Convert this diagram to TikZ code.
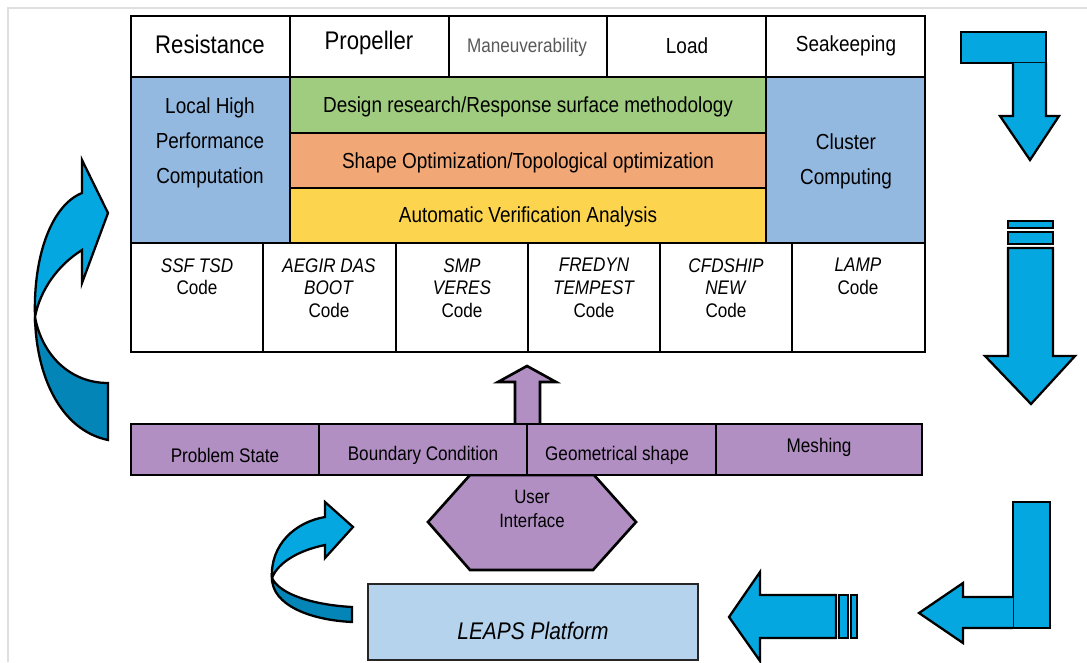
\documentclass[tikz,border=0pt]{standalone}
\usepackage{fontspec}
\setmainfont{Liberation Sans}[FakeStretch=0.87]
\definecolor{cellblue}{HTML}{94B9E1}
\definecolor{cellgreen}{HTML}{A0CC7F}
\definecolor{cellorange}{HTML}{F2A777}
\definecolor{cellyellow}{HTML}{FCD44E}
\definecolor{barpurple}{HTML}{B18FC3}
\definecolor{leapsblue}{HTML}{B6D3EE}
\definecolor{arrowblue}{HTML}{05A7E0}
\definecolor{arrowdark}{HTML}{0485B8}
\tikzset{
  cell/.style={draw=black, line width=1.5pt},
  blockarrow/.style={draw=black, line width=1.3pt, fill=arrowblue, line join=miter},
  bigtext/.style={font=\fontsize{14.5}{17}\selectfont},
  midtext/.style={font=\fontsize{12.4}{20}\selectfont, align=center},
  smalltext/.style={font=\fontsize{11.2}{13}\selectfont, align=center},
  codetext/.style={font=\fontsize{11.2}{13}\selectfont, align=center, anchor=north, inner sep=0pt}
}
\begin{document}
\begin{tikzpicture}[x=0.02cm, y=-0.02cm]
\useasboundingbox (0,0) rectangle (1087,662);
\draw[gray!25, line width=0.8pt] (8,662) -- (8,8) -- (1087,8);

% top row
\draw[cell, fill=white] (131,16) rectangle (290,77);
\draw[cell, fill=white] (290,16) rectangle (449,77);
\draw[cell, fill=white] (449,16) rectangle (607,77);
\draw[cell, fill=white] (607,16) rectangle (766,77);
\draw[cell, fill=white] (766,16) rectangle (925,77);
\node[bigtext] (resistance) at (210,44) {Resistance};
\node[bigtext] (propeller) at (369,43) {Propeller};
\node[smalltext, text=black!65] (maneuver) at (527,47) {Maneuverability};
\node[midtext] (load) at (687,46) {Load};
\node[midtext] (seakeeping) at (846,46) {Seakeeping};

% middle block
\draw[cell, fill=cellblue] (131,77) rectangle (290,243);
\draw[cell, fill=cellgreen] (290,77) rectangle (766,133);
\draw[cell, fill=cellorange] (290,133) rectangle (766,188);
\draw[cell, fill=cellyellow] (290,188) rectangle (766,243);
\draw[cell, fill=cellblue] (766,77) rectangle (925,243);
\node[midtext] (local) at (210,143) {Local High\\Performance\\Computation};
\node[midtext] (design) at (528,107) {Design research/Response surface methodology};
\node[midtext] (shape) at (528,163) {Shape Optimization/Topological optimization};
\node[midtext] (verify) at (528,217) {Automatic Verification Analysis};
\node[midtext] (cluster) at (846,161) {Cluster\\Computing};

% code row
\draw[cell, fill=white] (131,243) rectangle (263,352);
\draw[cell, fill=white] (263,243) rectangle (396,352);
\draw[cell, fill=white] (396,243) rectangle (528,352);
\draw[cell, fill=white] (528,243) rectangle (660,352);
\draw[cell, fill=white] (660,243) rectangle (792,352);
\draw[cell, fill=white] (792,243) rectangle (925,352);
\node[codetext] (ssf) at (197,258) {\textit{SSF TSD}\\Code};
\node[codetext] (aegir) at (329,258) {\textit{AEGIR DAS}\\\textit{BOOT}\\Code};
\node[codetext] (smp) at (462,258) {\textit{SMP}\\\textit{VERES}\\Code};
\node[codetext] (fredyn) at (594,258) {\textit{FREDYN}\\\textit{TEMPEST}\\Code};
\node[codetext] (cfdship) at (726,258) {\textit{CFDSHIP}\\\textit{NEW}\\Code};
\node[codetext] (lamp) at (858,258) {\textit{LAMP}\\Code};

% up arrow and user interface
\filldraw[cell, fill=barpurple, line join=miter] (515,424) -- (515,382) -- (498,382) -- (527,366) -- (556,382) -- (540,382) -- (540,424);
\filldraw[cell, fill=barpurple] (470,475) -- (594,475) -- (636,522) -- (593,570) -- (470,570) -- (428,522) -- cycle;
\node[smalltext, font=\fontsize{11}{14}\selectfont] (ui) at (532,509) {User\\Interface};

% input bar
\draw[cell, fill=barpurple] (131,424) rectangle (319,475);
\draw[cell, fill=barpurple] (319,424) rectangle (527,475);
\draw[cell, fill=barpurple] (527,424) rectangle (716,475);
\draw[cell, fill=barpurple] (716,424) rectangle (922,475);
\node[smalltext] (problem) at (225,455) {Problem State};
\node[smalltext] (boundary) at (423,455) {Boundary Condition};
\node[smalltext] (geometry) at (617,455) {Geometrical shape};
\node[smalltext] (meshing) at (819,447) {Meshing};

% platform
\draw[line width=1.5pt, draw=black!85, fill=leapsblue] (368,584) rectangle (698,660);
\node[font=\fontsize{13.7}{16}\selectfont\itshape] (leaps) at (533,631) {LEAPS Platform};

% curved arrow left
\filldraw[blockarrow] (35,317) .. controls (33,255) and (52,205) .. (82,193) -- (82,160) -- (108,213) -- (82,283) -- (82,250) .. controls (58,265) and (40,290) .. (35,317) -- cycle;
\filldraw[blockarrow, fill=arrowdark] (35,317) .. controls (36,375) and (60,430) .. (108,440) -- (108,383) .. controls (70,383) and (42,355) .. (35,317) -- cycle;

% curved arrow bottom
\filldraw[blockarrow] (272,578) .. controls (270,545) and (295,522) .. (325,517) -- (325,502) -- (353,527) -- (325,558) -- (325,545) .. controls (300,550) and (278,562) .. (272,578) -- cycle;
\filldraw[blockarrow, fill=arrowdark] (272,578) .. controls (272,605) and (310,620) .. (352,622) -- (352,607) .. controls (315,605) and (280,595) .. (272,578) -- cycle;

% right side arrows
\filldraw[blockarrow] (961,32) rectangle (1046,63);
\filldraw[blockarrow] (1013,63) -- (1013,116) -- (1000,116) -- (1030,160) -- (1059,116) -- (1046,116) -- (1046,63);
\filldraw[blockarrow] (1008,221) rectangle (1053,228);
\filldraw[blockarrow] (1008,232) rectangle (1053,244);
\filldraw[blockarrow] (1008,248) -- (1008,356) -- (985,356) -- (1031,404) -- (1075,356) -- (1053,356) -- (1053,248) -- cycle;
\filldraw[blockarrow] (1013,502) rectangle (1050,628);
\filldraw[blockarrow] (1013,597) -- (963,597) -- (963,583) -- (919,613) -- (963,643) -- (963,628) -- (1013,628);
\filldraw[blockarrow] (836,595) -- (760,595) -- (760,572) -- (729,617) -- (760,661) -- (760,638) -- (836,638) -- cycle;
\filldraw[blockarrow] (839,595) rectangle (848,638);
\filldraw[blockarrow] (851,595) rectangle (857,638);
\end{tikzpicture}
\end{document}
